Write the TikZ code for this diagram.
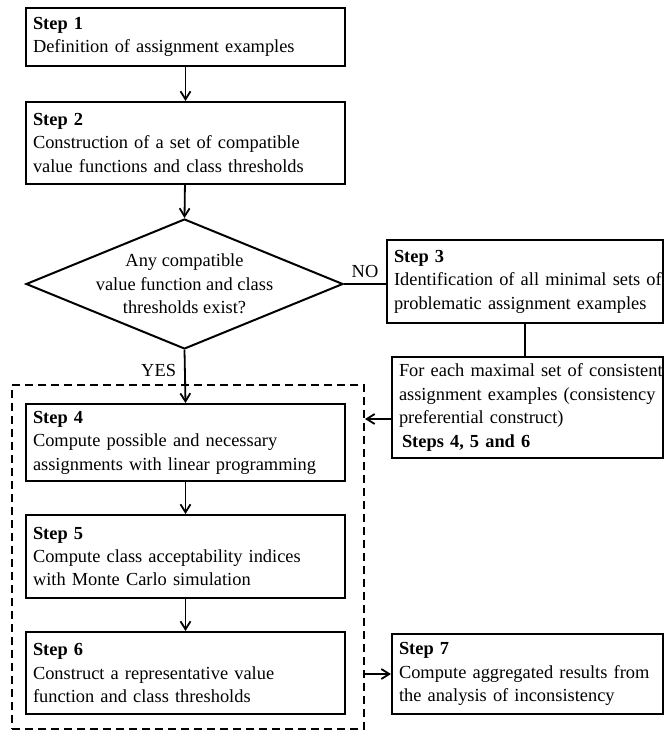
\documentclass[tikz,border=0pt]{standalone}
\usepackage{fontspec}
\setmainfont{Liberation Serif}
\usetikzlibrary{shapes.geometric,arrows.meta}
\tikzset{
  stepbox/.style={draw,line width=1pt,anchor=north west,inner xsep=3.5pt,inner ysep=0pt,align=left},
  arr/.style={-{Straight Barb[length=4pt,width=5pt]},line width=0.9pt}
}
\begin{document}
\begin{tikzpicture}[x=0.5pt,y=-0.5pt,font=\fontsize{9.2}{11.7}\selectfont]
\useasboundingbox(0,0)rectangle(664,731);
\pgfmathsetmacro{\kyes}{0.39}
\node[stepbox,text width=152.5pt,minimum height=29pt](s1) at (25,7){\textbf{Step 1}\\Definition of assignment examples};
\node[stepbox,text width=152.5pt,minimum height=41pt](s2) at (25,101){\textbf{Step 2}\\Construction of a set of compatible\\value functions and class thresholds};
\node[draw,diamond,line width=1pt,inner sep=0pt,minimum width=158.5pt,minimum height=65pt,
  label={[align=center]center:Any compatible\\value function and class\\thresholds exist?}](dec) at (184.5,284){};
\node[stepbox,text width=131pt,minimum height=41.5pt](s3) at (386,239){\textbf{Step 3}\\\mbox{Identification of all minimal sets of}\\\mbox{problematic assignment examples}};
\node[stepbox,text width=128.5pt,minimum height=50.5pt](fe) at (391,356){\mbox{For each maximal set of consistent}\\\mbox{assignment examples (consistency}\\preferential construct)\\\hspace{1.5pt}\textbf{Steps 4, 5 and 6}};
% dashed frame round steps 4 to 6
\node[draw,dashed,line width=1pt,dash pattern=on 4pt off 2.5pt,anchor=north west,inner sep=0pt,minimum width=176pt,minimum height=172pt](grp) at (11,384){};
\node[stepbox,text width=152.5pt,minimum height=38.5pt](s4) at (25,403){\textbf{Step 4}\\Compute possible and necessary\\\mbox{assignments with linear programming}};
\node[stepbox,text width=152.5pt,minimum height=41.5pt](s5) at (25,514){\textbf{Step 5}\\Compute class acceptability indices\\with Monte Carlo simulation};
\node[stepbox,text width=152.5pt,minimum height=41pt](s6) at (25,631){\textbf{Step 6}\\Construct a representative value\\function and class thresholds};
\node[stepbox,text width=128.5pt,minimum height=40pt](s7) at (391,633){\textbf{Step 7}\\\mbox{Compute aggregated results from}\\\mbox{the analysis of inconsistency}};
\coordinate(fein) at (391,419);
\draw[arr](s1)--(s2);
\draw[arr](s2)--(dec.north);
\draw[line width=0.9pt](dec.east)--node[above,inner sep=2.5pt]{NO}(s3.west|-dec.east);
\draw[line width=0.9pt](s3.south)--(s3.south|-fe.north);
\draw[arr](fe.west|-fein)--(grp.east|-fein);
\draw[arr](dec.south)--node[pos=\kyes,left,inner sep=4pt]{YES}(s4.north);
\draw[arr](s4)--(s5);
\draw[arr](s5)--(s6);
\draw[arr](grp.east|-s7.west)--(s7.west);
\end{tikzpicture}
\end{document}
